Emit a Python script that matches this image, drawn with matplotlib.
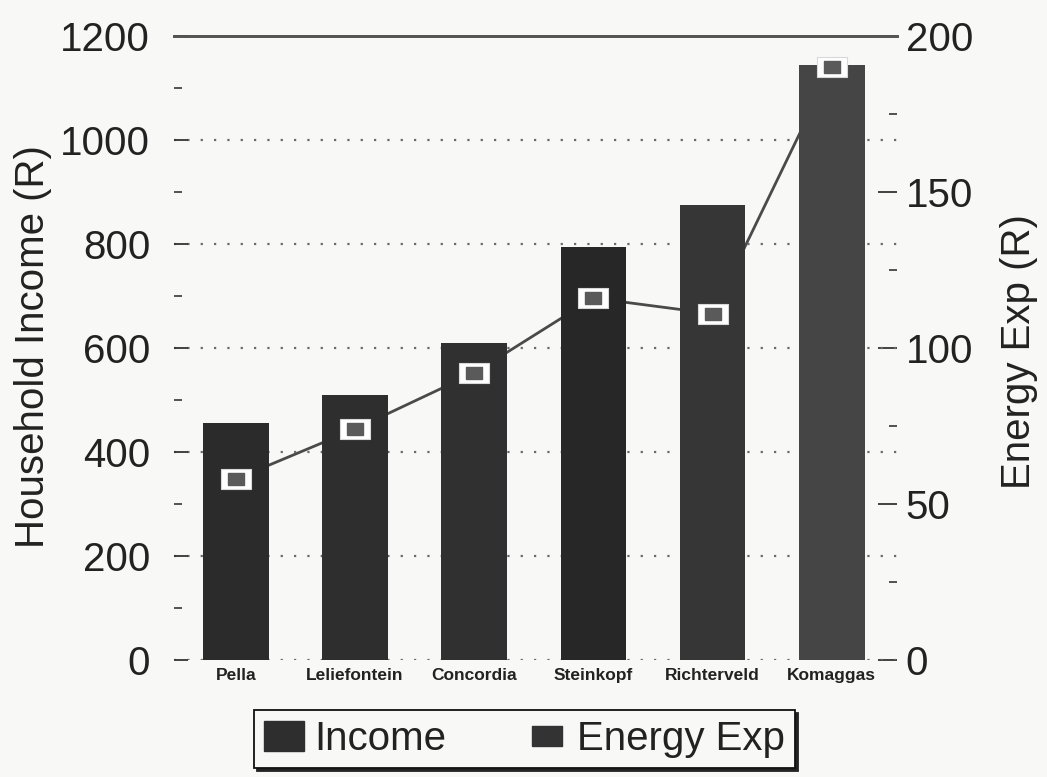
import matplotlib
matplotlib.use("Agg")
import matplotlib.pyplot as plt
from matplotlib.lines import Line2D
from matplotlib.patches import Patch
from matplotlib.ticker import MultipleLocator

# Household income and energy expenditure per settlement
villages = ["Pella", "Leliefontein", "Concordia", "Steinkopf", "Richterveld", "Komaggas"]
income = [455, 510, 610, 795, 875, 1145]
energy_exp = [58, 74, 92, 116, 111, 190]

income_ticks = [0, 200, 400, 600, 800, 1000, 1200]
energy_ticks = [0, 50, 100, 150, 200]

bar_colors = ["#2b2b2b", "#2e2e2e", "#303030", "#272727", "#363636", "#454545"]
paper = "#f8f8f6"

plt.rcParams["font.family"] = ["Liberation Sans", "DejaVu Sans"]

fig = plt.figure(figsize=(10.47, 7.77), dpi=100, facecolor=paper)
ax = fig.add_axes([0.166, 0.1506, 0.691, 0.803])
ax2 = ax.twinx()

# bars sit above the energy line, so the left axes is drawn last
ax.set_zorder(ax2.get_zorder() + 1)
ax.patch.set_visible(False)
ax2.patch.set_facecolor(paper)

x = list(range(len(villages)))
ax.bar(x, income, width=0.55, color=bar_colors, zorder=3)

# dotted reference lines at the income steps
for v in income_ticks[:-1]:
    ax.axhline(v, color="#6a6a6a", lw=1.6, ls=(0, (1, 5)), zorder=1)

ax.set_xlim(-0.52, 5.55)
ax.set_ylim(0, 1200)
ax2.set_ylim(0, 200)

# energy expenditure: connecting line behind the bars, boxes on top
ax2.plot(x, energy_exp, color="#4a4a4a", lw=2, zorder=2)
box = [(-1.4, -1), (1.4, -1), (1.4, 1), (-1.4, 1), (-1.4, -1)]
ax.plot(x, energy_exp, ls="none", marker=box, markersize=21,
        markerfacecolor="white", markeredgecolor="#d8d8d8", markeredgewidth=0.8,
        transform=ax2.transData, zorder=5)
ax.plot(x, energy_exp, ls="none", marker=box, markersize=12,
        markerfacecolor="#5a5a5a", markeredgecolor="#5a5a5a",
        transform=ax2.transData, zorder=6)

# axes frame: only the top rule is kept
for a in (ax, ax2):
    for side in ("left", "right", "bottom"):
        a.spines[side].set_visible(False)
    a.spines["top"].set_color("#555555")
    a.spines["top"].set_linewidth(2)

ax.set_xticks(x)
ax.set_xticklabels(villages, fontsize=12.5, fontweight="bold", color="#222222")
ax.tick_params(axis="x", length=0, pad=6)

ax.set_yticks(income_ticks)
ax.yaxis.set_minor_locator(MultipleLocator(100))
ax.tick_params(axis="y", which="major", direction="in", length=10, width=1.3,
               labelsize=29, pad=17, colors="#333333", labelcolor="#222222")
ax.tick_params(axis="y", which="minor", direction="in", length=6, width=1.3,
               colors="#444444")
ax.set_ylabel("Household Income (R)", fontsize=29, color="#222222")
ax.yaxis.set_label_coords(-0.169, 0.503)

ax2.set_yticks(energy_ticks)
ax2.yaxis.set_minor_locator(MultipleLocator(25))
ax2.tick_params(axis="y", which="major", direction="in", length=14, width=1.3,
                labelsize=29, pad=6, colors="#333333", labelcolor="#222222")
ax2.tick_params(axis="y", which="minor", direction="in", length=6, width=1.3,
                colors="#444444")
ax2.set_ylabel("Energy Exp (R)", fontsize=29, color="#222222")
ax2.yaxis.set_label_coords(1.1425, 0.494)

handles = [
    Patch(facecolor="#2e2e2e", edgecolor="#2e2e2e"),
    Line2D([], [], ls="none", marker=box, markersize=21,
           markerfacecolor="#333333", markeredgecolor="#333333"),
]
leg = fig.legend(handles, ["Income", "Energy Exp"], loc="center",
                 bbox_to_anchor=(0.501, 0.049), ncol=2, fontsize=29,
                 frameon=True, fancybox=False, edgecolor="#111111",
                 facecolor=paper, handlelength=1.0, handleheight=0.75,
                 handletextpad=0.25, columnspacing=2.0, borderpad=0.25,
                 borderaxespad=0, shadow={"color": "#222222", "alpha": 1})
leg.get_frame().set_linewidth(1.3)
for t in leg.get_texts():
    t.set_color("#222222")

fig.savefig("out.png", dpi=100, facecolor=paper)
